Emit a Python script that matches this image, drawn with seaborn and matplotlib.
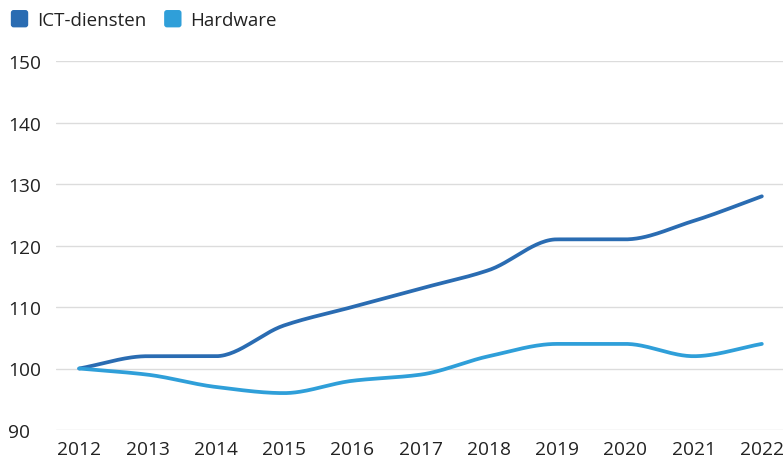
import numpy as np
import pandas as pd
import matplotlib
matplotlib.use('Agg')
import matplotlib.pyplot as plt
import seaborn as sns
from matplotlib.patches import FancyBboxPatch
from matplotlib.legend_handler import HandlerPatch

# data
years = [2012, 2013, 2014, 2015, 2016, 2017, 2018, 2019, 2020, 2021, 2022]
ict_diensten = [100, 102, 102, 107, 110, 113, 116, 121, 121, 124, 128]
hardware = [100, 99, 97, 96, 98, 99, 102, 104, 104, 102, 104]
y_ticks = [90, 100, 110, 120, 130, 140, 150]

series_names = ['ICT-diensten', 'Hardware']
colors = {'ICT-diensten': '#2a6cb2', 'Hardware': '#2f9fd9'}


def monotone_curve(x, y, n=30):
    # monotone cubic (Fritsch-Carlson) used only to draw a smooth line through the points
    x = np.asarray(x, float)
    y = np.asarray(y, float)
    h = np.diff(x)
    d = np.diff(y) / h
    m = np.zeros_like(y)
    m[0], m[-1] = d[0], d[-1]
    for i in range(1, len(x) - 1):
        if d[i - 1] * d[i] <= 0:
            m[i] = 0
        else:
            w1 = 2 * h[i] + h[i - 1]
            w2 = h[i] + 2 * h[i - 1]
            m[i] = (w1 + w2) / (w1 / d[i - 1] + w2 / d[i])
    xs, ys = [], []
    for i in range(len(x) - 1):
        t = np.linspace(0, 1, n, endpoint=(i == len(x) - 2))
        h00 = 2 * t**3 - 3 * t**2 + 1
        h10 = t**3 - 2 * t**2 + t
        h01 = -2 * t**3 + 3 * t**2
        h11 = t**3 - t**2
        xs.append(x[i] + t * h[i])
        ys.append(h00 * y[i] + h10 * h[i] * m[i] + h01 * y[i + 1] + h11 * h[i] * m[i + 1])
    return np.concatenate(xs), np.concatenate(ys)


frames = []
for name, vals in zip(series_names, [ict_diensten, hardware]):
    cx, cy = monotone_curve(years, vals)
    frames.append(pd.DataFrame({'jaar': cx, 'waarde': cy, 'reeks': name}))
df = pd.concat(frames, ignore_index=True)

sns.set_style('white')
plt.rcParams['font.family'] = ['Open Sans', 'DejaVu Sans']

fig = plt.figure(figsize=(7.83, 4.64), dpi=100)
ax = fig.add_axes([56 / 783, 1 - 431 / 464, 727 / 783, (431 - 62) / 464])

sns.lineplot(data=df, x='jaar', y='waarde', hue='reeks', palette=colors,
             linewidth=2.7, ax=ax, legend=False, sort=False, estimator=None)

ax.set_xlim(2011.66, 2022.31)
ax.set_ylim(90, 150)
ax.set_yticks(y_ticks)
ax.set_xticks(years)
ax.set_xticklabels([str(y) for y in years])
ax.grid(axis='y', color='#dcdcdc', linewidth=1)
ax.set_axisbelow(True)
for s in ax.spines.values():
    s.set_visible(False)
ax.set_xlabel('')
ax.set_ylabel('')
ax.tick_params(axis='both', length=0, labelsize=13.8, colors='#222222')
ax.tick_params(axis='x', pad=7)
ax.tick_params(axis='y', pad=34.5)
for lab in ax.get_yticklabels():
    lab.set_horizontalalignment('left')


class RoundSquare(HandlerPatch):
    def create_artists(self, legend, orig_handle, xdescent, ydescent, width, height, fontsize, trans):
        size = 12.5
        p = FancyBboxPatch((-xdescent + (width - size) / 2, -ydescent + (height - size) / 2),
                           size, size, boxstyle='round,pad=0,rounding_size=2',
                           facecolor=orig_handle.get_facecolor(), edgecolor='none', transform=trans)
        return [p]


handles = [plt.Rectangle((0, 0), 1, 1, facecolor=colors[n]) for n in series_names]
fig.legend(handles, series_names, loc='upper left', bbox_to_anchor=(-0.008, 1.012),
           ncol=2, frameon=False, fontsize=13.5, handlelength=0.95, handleheight=1.0,
           handletextpad=0.45, columnspacing=0.95,
           handler_map={plt.Rectangle: RoundSquare()}, labelcolor='#222222')

fig.savefig('out.png', dpi=100)
